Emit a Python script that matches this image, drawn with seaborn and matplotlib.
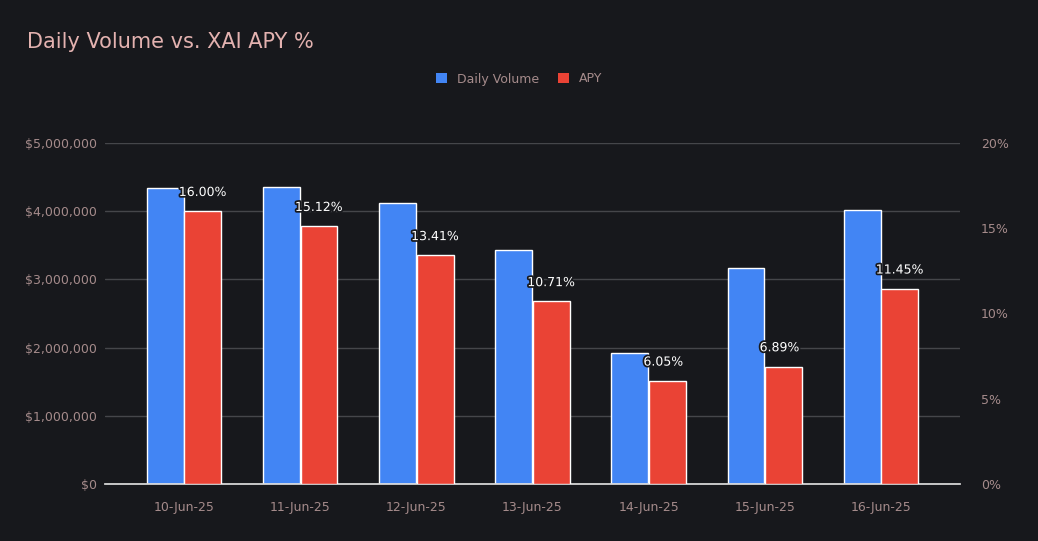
import matplotlib
matplotlib.use("Agg")
import matplotlib.pyplot as plt
import matplotlib.ticker as mticker
import matplotlib.patheffects as pe
import seaborn as sns
import pandas as pd
import numpy as np

dates = ["10-Jun-25", "11-Jun-25", "12-Jun-25", "13-Jun-25", "14-Jun-25", "15-Jun-25", "16-Jun-25"]
volume = [4340000, 4355000, 4120000, 3430000, 1915000, 3170000, 4020000]
apy = [16.00, 15.12, 13.41, 10.71, 6.05, 6.89, 11.45]

BG = "#17181c"
BLUE = "#4285f4"
RED = "#ea4335"
TICK = "#a58b8b"
TITLE = "#e3b2b0"
GRID = "#45464a"

series_order = ["Daily Volume", "APY"]
vol_df = pd.DataFrame({"date": dates * 2,
                       "series": ["Daily Volume"] * 7 + ["APY"] * 7,
                       "value": volume + [np.nan] * 7})
apy_df = pd.DataFrame({"date": dates * 2,
                       "series": ["Daily Volume"] * 7 + ["APY"] * 7,
                       "value": [np.nan] * 7 + apy})

sns.set_theme(style="dark")
plt.rcParams["font.family"] = ["DejaVu Sans"]

fig = plt.figure(figsize=(10.38, 5.41), dpi=100, facecolor=BG)
ax = fig.add_axes([105 / 1038, 1 - 484 / 541, 855 / 1038, 341 / 541])
ax.set_facecolor(BG)
ax2 = ax.twinx()

pal = {"Daily Volume": BLUE, "APY": RED}
sns.barplot(data=vol_df, x="date", y="value", hue="series", hue_order=series_order,
            palette=pal, ax=ax, width=0.65, gap=0.025, edgecolor="white", linewidth=1,
            saturation=1, legend=False)
sns.barplot(data=apy_df, x="date", y="value", hue="series", hue_order=series_order,
            palette=pal, ax=ax2, width=0.65, gap=0.025, edgecolor="white", linewidth=1,
            saturation=1, legend=False)

ax.set_ylim(0, 5000000)
ax2.set_ylim(0, 20)
ax.set_xlim(-0.68, 6.68)
ax.yaxis.set_major_locator(mticker.MultipleLocator(1000000))
ax.yaxis.set_major_formatter(mticker.FuncFormatter(lambda v, p: f"${v:,.0f}"))
ax2.yaxis.set_major_locator(mticker.MultipleLocator(5))
ax2.yaxis.set_major_formatter(mticker.FuncFormatter(lambda v, p: f"{v:.0f}%"))

ax.grid(axis="y", color=GRID, linewidth=1)
ax.grid(axis="x", visible=False)
ax2.grid(False)
ax.set_axisbelow(True)
ax.set_xlabel("")
ax.set_ylabel("")
ax2.set_ylabel("")
for a in (ax, ax2):
    for s in a.spines.values():
        s.set_visible(False)
ax.spines["bottom"].set_visible(True)
ax.spines["bottom"].set_color("#dddddd")
ax.tick_params(axis="both", colors=TICK, labelsize=9, length=0, pad=12)
ax.tick_params(axis="y", pad=6)
ax2.tick_params(axis="y", colors=TICK, labelsize=9, length=0, pad=15)

for i, v in enumerate(apy):
    ax2.text(i - 0.045, v + 1.1, f"{v:.2f}%", color="white", fontsize=9,
             ha="left", va="center",
             path_effects=[pe.withStroke(linewidth=2.5, foreground=BG)])

handles = [plt.Rectangle((0, 0), 1, 1, facecolor=pal[s], edgecolor="none") for s in series_order]
fig.legend(handles, series_order, loc="center", bbox_to_anchor=(519 / 1038, 1 - 79 / 541),
           ncol=2, frameon=False, fontsize=9, labelcolor=TICK,
           handlelength=0.9, handleheight=0.9, handletextpad=0.8, columnspacing=1.5)

fig.text(27 / 1038, 1 - 42 / 541, "Daily Volume vs. XAI APY %", color=TITLE,
         fontsize=15, ha="left", va="center")

fig.savefig("out.png", dpi=100, facecolor=BG)
